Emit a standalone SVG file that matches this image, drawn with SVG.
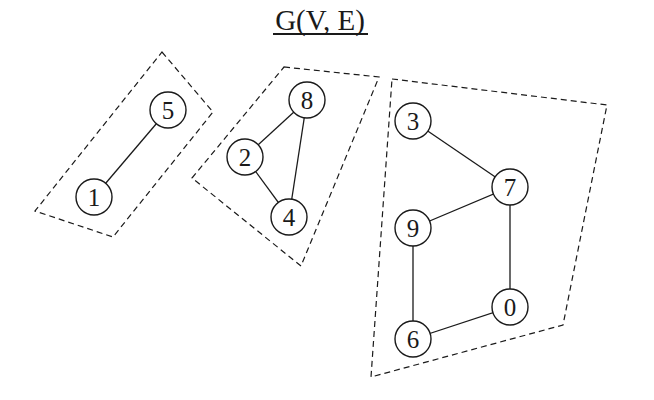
<svg xmlns="http://www.w3.org/2000/svg" width="654" height="400" viewBox="0 0 654 400">
<style>
.bg{fill:#fff}
.grp{fill:none;stroke:#1a1a1a;stroke-width:1.2;stroke-dasharray:6 4}
.edge{stroke:#1a1a1a;stroke-width:1.3;fill:none}
.node circle{fill:#fff;stroke:#1a1a1a;stroke-width:1.4}
.node text{font-family:"Liberation Serif",serif;font-size:25px;fill:#1a1a1a;text-anchor:middle}
.title{font-family:"Liberation Serif",serif;font-size:29px;fill:#1a1a1a;text-anchor:middle}
</style>
<rect class="bg" width="654" height="400"/>
<g id="title">
<text class="title" x="320" y="30">G(V, E)</text>
<line x1="273" y1="34" x2="368" y2="34" stroke="#1a1a1a" stroke-width="2"/>
</g>
<g id="components">
<polygon class="grp" points="162,52 213,112 113,237 35,211"/>
<polygon class="grp" points="284,67 379,77 301,266 192,178"/>
<polygon class="grp" points="392,79 607,105 563,325 371,377"/>
</g>
<g id="connectors">
<line class="edge" x1="94" y1="197" x2="168" y2="110"/>
<line class="edge" x1="245" y1="157" x2="307" y2="100"/>
<line class="edge" x1="245" y1="157" x2="289" y2="217"/>
<line class="edge" x1="307" y1="100" x2="289" y2="217"/>
<line class="edge" x1="413" y1="121" x2="510" y2="187"/>
<line class="edge" x1="413" y1="228" x2="510" y2="187"/>
<line class="edge" x1="510" y1="187" x2="510" y2="307"/>
<line class="edge" x1="413" y1="228" x2="413" y2="339"/>
<line class="edge" x1="413" y1="339" x2="510" y2="307"/>
</g>
<g id="node-5" class="node"><circle cx="168" cy="110" r="18"/><text x="168" y="119">5</text></g>
<g id="node-1" class="node"><circle cx="94" cy="197" r="18"/><text x="94" y="206">1</text></g>
<g id="node-8" class="node"><circle cx="307" cy="100" r="18"/><text x="307" y="109">8</text></g>
<g id="node-2" class="node"><circle cx="245" cy="157" r="18"/><text x="245" y="166">2</text></g>
<g id="node-4" class="node"><circle cx="289" cy="217" r="18"/><text x="289" y="226">4</text></g>
<g id="node-3" class="node"><circle cx="413" cy="121" r="18"/><text x="413" y="130">3</text></g>
<g id="node-7" class="node"><circle cx="510" cy="187" r="18"/><text x="510" y="196">7</text></g>
<g id="node-9" class="node"><circle cx="413" cy="228" r="18"/><text x="413" y="237">9</text></g>
<g id="node-0" class="node"><circle cx="510" cy="307" r="18"/><text x="510" y="316">0</text></g>
<g id="node-6" class="node"><circle cx="413" cy="339" r="18"/><text x="413" y="348">6</text></g>
</svg>
